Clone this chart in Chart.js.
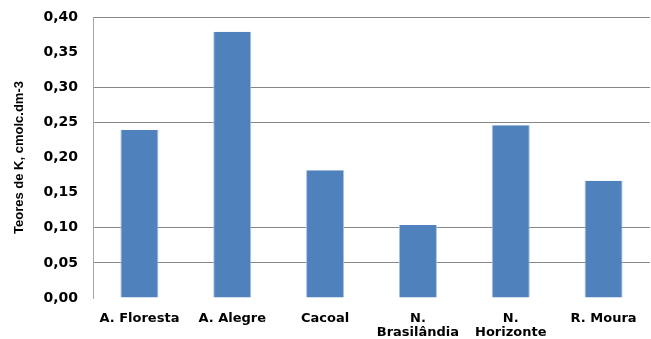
<!DOCTYPE html>
<html>
<head>
<meta charset="utf-8">
<script src="https://cdn.jsdelivr.net/npm/chart.js@4/dist/chart.umd.min.js"></script>
<style>
  html, body { margin: 0; padding: 0; background: #fff; }
  #wrap { width: 651px; height: 339px; }
</style>
</head>
<body>
<div id="wrap"><canvas id="c"></canvas></div>
<script>
// Municípios (rótulos do eixo X; rótulos longos quebrados em duas linhas)
const municipios = [
  'A. Floresta',
  'A. Alegre',
  'Cacoal',
  ['N.', 'Brasilândia'],
  ['N.', 'Horizonte'],
  'R. Moura'
];

// Teores de K (cmolc.dm-3) por município
const teoresK = [0.239, 0.379, 0.182, 0.104, 0.246, 0.167];

// Escala do eixo Y
const yMin = 0;
const yMax = 0.40;
const yPasso = 0.05;

// Linhas de grade que aparecem no gráfico
const linhasVisiveis = new Set(['0.05', '0.10', '0.25', '0.30', '0.40']);

const fmt = v => v.toFixed(2).replace('.', ',');

new Chart(document.getElementById('c'), {
  type: 'bar',
  data: {
    labels: municipios,
    datasets: [{
      label: 'Teores de K',
      data: teoresK,
      backgroundColor: '#4F81BD',
      borderColor: '#A9C1E0',
      borderWidth: { left: 1, right: 1, top: 0, bottom: 0 },
      borderSkipped: false,
      barPercentage: 1,
      categoryPercentage: 0.41
    }]
  },
  options: {
    responsive: true,
    maintainAspectRatio: false,
    animation: false,
    layout: { padding: { top: 17, right: 1, bottom: 0, left: 0 } },
    plugins: {
      legend: { display: false },
      tooltip: { enabled: false }
    },
    scales: {
      x: {
        grid: { display: false, drawTicks: false },
        border: { display: false },
        ticks: {
          color: '#000',
          padding: 14,
          maxRotation: 0,
          autoSkip: false,
          font: { family: 'DejaVu Sans', size: 13, weight: 'bold', lineHeight: 1.05 }
        },
        afterFit: s => { s.height = 41; }
      },
      y: {
        min: yMin,
        max: yMax,
        grid: {
          drawTicks: true,
          tickLength: 14,
          tickColor: 'rgba(0,0,0,0)',
          lineWidth: 1,
          color: ctx => (ctx.tick && linhasVisiveis.has(ctx.tick.value.toFixed(2))) ? '#878787' : 'rgba(0,0,0,0)'
        },
        border: { display: true, color: '#A6A6A6', width: 1 },
        ticks: {
          stepSize: yPasso,
          color: '#000',
          padding: 1,
          font: { family: 'DejaVu Sans', size: 14, weight: 'bold' },
          callback: v => fmt(v)
        },
        title: {
          display: true,
          text: 'Teores de K, cmolc.dm-3',
          color: '#000',
          padding: { top: 12, bottom: 4 },
          font: { family: 'Liberation Sans', size: 13, weight: 'bold' }
        },
        afterFit: s => { s.width = 93; }
      }
    }
  }
});
</script>
</body>
</html>
